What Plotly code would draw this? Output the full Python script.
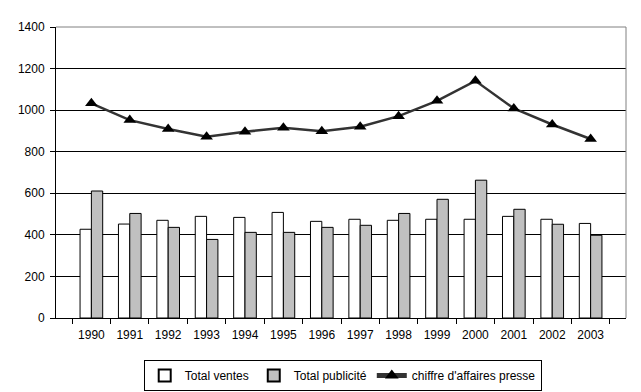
import plotly.graph_objects as go

years = ["1990", "1991", "1992", "1993", "1994", "1995", "1996", "1997",
         "1998", "1999", "2000", "2001", "2002", "2003"]
total_ventes = [427, 452, 470, 489, 484, 508, 465, 475, 470, 475, 475, 489, 475, 455]
total_publicite = [611, 503, 436, 378, 412, 412, 436, 446, 503, 571, 663, 523, 451, 398]
chiffre_affaires = [1033, 952, 909, 872, 896, 915, 899, 920, 971, 1045, 1141, 1008, 931, 861]
y_ticks = [0, 200, 400, 600, 800, 1000, 1200, 1400]

fig = go.Figure()
fig.add_trace(go.Bar(x=years, y=total_ventes, name="Total ventes",
                     marker=dict(color="white", line=dict(color="black", width=1))))
fig.add_trace(go.Bar(x=years, y=total_publicite, name="Total publicité",
                     marker=dict(color="#c0c0c0", line=dict(color="black", width=1))))
fig.add_trace(go.Scatter(x=years, y=chiffre_affaires, name="chiffre d'affaires presse",
                         mode="lines+markers",
                         line=dict(color="#333333", width=2.5),
                         marker=dict(symbol="triangle-up", size=11, color="black")))

fig.update_layout(
    width=641, height=392,
    margin=dict(l=48, r=23, t=19, b=82, autoexpand=False),
    paper_bgcolor="white", plot_bgcolor="white",
    font=dict(family="Liberation Sans, Arial, sans-serif", size=12, color="black"),
    barmode="group", bargap=0.41, bargroupgap=0,
    showlegend=True,
    legend=dict(orientation="h", x=0.503, xanchor="center", y=-0.144, yanchor="top",
                bordercolor="black", borderwidth=1, font=dict(size=12),
                itemsizing="constant", tracegroupgap=0),
    xaxis=dict(type="category", showline=True, linecolor="black", linewidth=1,
               ticks="outside", tickson="boundaries", ticklen=5, tickcolor="black",
               ticklabelstandoff=6,
               showgrid=False, fixedrange=True, automargin=False),
    yaxis=dict(range=[0, 1400], tickvals=y_ticks, showline=True, linecolor="black",
               linewidth=1, ticks="outside", ticklen=5, tickcolor="black",
               ticklabelstandoff=3,
               showgrid=True, gridcolor="black", gridwidth=1, zeroline=False,
               automargin=False),
    shapes=[dict(type="line", xref="paper", yref="paper", x0=0, x1=1, y0=1, y1=1,
                 line=dict(color="#808080", width=1), layer="above"),
            dict(type="line", xref="paper", yref="paper", x0=1, x1=1, y0=0, y1=1,
                 line=dict(color="#808080", width=1), layer="above")],
)

fig.write_html("out.html")
